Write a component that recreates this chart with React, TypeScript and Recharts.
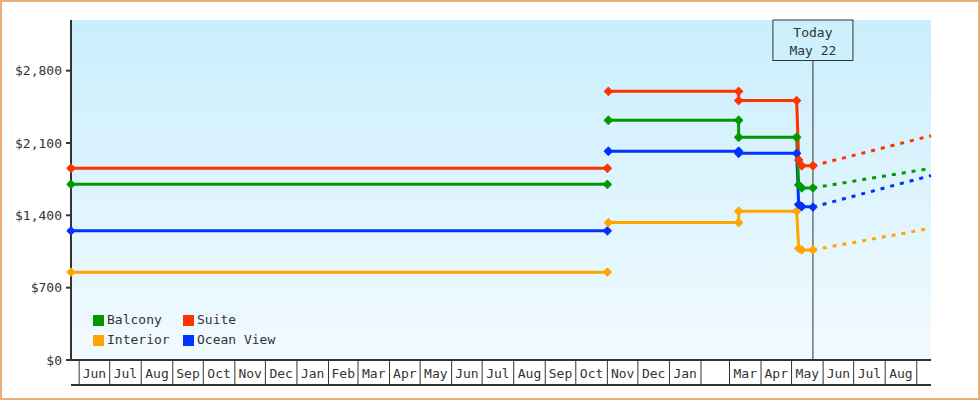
import React from "react";
import { LineChart, Line, XAxis, YAxis, CartesianGrid, ReferenceLine, Legend } from "recharts";

const FONT = '"DejaVu Sans Mono", monospace';
const INK = "#333333";

// ---- categories / legend ----
const legendNames = ["Balcony", "Suite", "Interior", "Ocean View"];
const legendColors = ["#009900", "#ff3300", "#ffa500", "#0033ff"];

// ---- x axis ----
const domainStart = "2023-05-24";
const domainEnd = "2025-09-15";
const firstMonth = [2023, 5]; // June 2023 (0-based month)
const monthLabels = [
  "Jun", "Jul", "Aug", "Sep", "Oct", "Nov", "Dec", "Jan", "Feb", "Mar", "Apr", "May",
  "Jun", "Jul", "Aug", "Sep", "Oct", "Nov", "Dec", "Jan", "", "Mar", "Apr", "May",
  "Jun", "Jul", "Aug",
];
const todayDate = "2025-05-22";
const todayLabel = ["Today", "May 22"];

// ---- y axis ----
const yTicks = [0, 700, 1400, 2100, 2800];
const yMax = 3290;

// ---- series values: [date, price] ----
const interiorEarly = [["2023-05-24", 850], ["2024-11-01", 850]];
const interiorRecent = [
  ["2024-11-02", 1330], ["2025-03-10", 1330], ["2025-03-10", 1440], ["2025-05-06", 1440],
  ["2025-05-08", 1080], ["2025-05-11", 1065], ["2025-05-22", 1065],
];
const interiorForecast = [["2025-05-22", 1065], ["2025-09-15", 1275]];

const oceanEarly = [["2023-05-24", 1250], ["2024-11-01", 1250]];
const oceanRecent = [
  ["2024-11-02", 2020], ["2025-03-10", 2020], ["2025-03-10", 2000], ["2025-05-06", 2000],
  ["2025-05-08", 1505], ["2025-05-11", 1485], ["2025-05-22", 1480],
];
const oceanForecast = [["2025-05-22", 1480], ["2025-09-15", 1785]];

const balconyEarly = [["2023-05-24", 1700], ["2024-11-01", 1700]];
const balconyRecent = [
  ["2024-11-02", 2320], ["2025-03-10", 2320], ["2025-03-10", 2155], ["2025-05-06", 2155],
  ["2025-05-08", 1695], ["2025-05-11", 1665], ["2025-05-22", 1665],
];
const balconyForecast = [["2025-05-22", 1665], ["2025-09-15", 1855]];

const suiteEarly = [["2023-05-24", 1855], ["2024-11-01", 1855]];
const suiteRecent = [
  ["2024-11-02", 2600], ["2025-03-10", 2600], ["2025-03-10", 2510], ["2025-05-06", 2510],
  ["2025-05-08", 1935], ["2025-05-11", 1880], ["2025-05-22", 1880],
];
const suiteForecast = [["2025-05-22", 1880], ["2025-09-15", 2170]];

// ---- helpers ----
const ts = (d: string) => Date.parse(d + "T00:00:00Z");
const toPoints = (arr: (string | number)[][]) =>
  arr.map(([d, v]) => ({ t: ts(d as string), price: v as number }));

const series = [
  { name: "Interior", color: legendColors[2], early: interiorEarly, recent: interiorRecent, forecast: interiorForecast },
  { name: "Ocean View", color: legendColors[3], early: oceanEarly, recent: oceanRecent, forecast: oceanForecast },
  { name: "Balcony", color: legendColors[0], early: balconyEarly, recent: balconyRecent, forecast: balconyForecast },
  { name: "Suite", color: legendColors[1], early: suiteEarly, recent: suiteRecent, forecast: suiteForecast },
];

const boundaries = Array.from({ length: monthLabels.length + 1 }, (_, i) =>
  Date.UTC(firstMonth[0], firstMonth[1] + i, 1)
);
const mids = monthLabels.map((_, i) => (boundaries[i] + boundaries[i + 1]) / 2);
const boundarySet = new Set(boundaries);
const labelByTick = new Map(mids.map((m, i) => [m, monthLabels[i]]));
const xTicks = [...boundaries, ...mids].sort((a, b) => a - b);
const xDomain = [ts(domainStart), ts(domainEnd)];

const money = (v: number) => "$" + v.toLocaleString("en-US");

function MonthTick(props: any) {
  const { x, y, payload } = props;
  const v = payload.value;
  if (boundarySet.has(v)) {
    return <line x1={x} x2={x} y1={y} y2={y + 25} stroke={INK} strokeWidth={1} />;
  }
  return (
    <text x={x} y={y + 13} textAnchor="middle" dominantBaseline="central" fontFamily={FONT} fontSize={13} fill={INK}>
      {labelByTick.get(v)}
    </text>
  );
}

function makeDiamond(color: string) {
  return (p: any) => {
    const { cx, cy, index } = p;
    if (cx == null || cy == null) return <g key={index} />;
    const r = 4;
    return (
      <polygon
        key={index}
        points={`${cx},${cy - r} ${cx + r},${cy} ${cx},${cy + r} ${cx - r},${cy}`}
        fill={color}
        stroke={color}
        strokeWidth={1.2}
        strokeLinejoin="round"
      />
    );
  };
}

function TodayLabel(props: any) {
  const vb = props.viewBox || {};
  const cx = vb.x;
  const top = vb.y;
  return (
    <g>
      <rect x={cx - 40} y={top} width={80} height={40.5} fill="#ccf0fc" stroke={INK} strokeWidth={1} />
      <text x={cx} y={top + 12.5} textAnchor="middle" dominantBaseline="central" fontFamily={FONT} fontSize={13} fill={INK}>
        {todayLabel[0]}
      </text>
      <text x={cx} y={top + 30} textAnchor="middle" dominantBaseline="central" fontFamily={FONT} fontSize={13} fill={INK}>
        {todayLabel[1]}
      </text>
    </g>
  );
}

function LegendBox() {
  return (
    <div
      style={{
        display: "grid",
        gridTemplateColumns: "90px auto",
        rowGap: 0,
        fontFamily: FONT,
        fontSize: 13,
        color: INK,
        lineHeight: "20px",
      }}
    >
      {legendNames.map((n, i) => (
        <div key={n} style={{ display: "flex", alignItems: "center", whiteSpace: "nowrap" }}>
          <span style={{ display: "inline-block", width: 11, height: 11, background: legendColors[i], marginRight: 3 }} />
          <span>{n}</span>
        </div>
      ))}
    </div>
  );
}

export default function App() {
  return (
    <div style={{ position: "absolute", left: 0, top: 0, width: 980, height: 400, background: "#fff" }}>
      <LineChart width={980} height={400} margin={{ top: 20, right: 49, bottom: 0, left: 0 }}>
        <defs>
          <linearGradient id="plotBg" x1="0" y1="0" x2="0" y2="1">
            <stop offset="0" stopColor="#c9eefc" />
            <stop offset="1" stopColor="#f2faff" />
          </linearGradient>
        </defs>
        <CartesianGrid horizontal={false} vertical={false} fill="url(#plotBg)" stroke="none" />
        <XAxis
          dataKey="t"
          type="number"
          domain={xDomain}
          ticks={xTicks}
          interval={0}
          height={25}
          tickSize={0}
          tickMargin={0}
          tickLine={false}
          tick={<MonthTick />}
          axisLine={{ stroke: INK, strokeWidth: 2 }}
        />
        <XAxis
          xAxisId="frame"
          dataKey="t"
          type="number"
          domain={xDomain}
          height={15}
          tick={false}
          tickLine={false}
          axisLine={{ stroke: INK, strokeWidth: 2 }}
        />
        <YAxis
          type="number"
          domain={[0, yMax]}
          ticks={yTicks}
          interval={0}
          width={71}
          tickSize={5}
          tickMargin={4}
          tickFormatter={money}
          tick={{ fill: INK, fontSize: 13, fontFamily: FONT }}
          tickLine={{ stroke: INK, strokeWidth: 2 }}
          axisLine={{ stroke: INK, strokeWidth: 2 }}
        />
        <ReferenceLine x={ts(todayDate)} stroke={INK} strokeWidth={1} label={<TodayLabel />} ifOverflow="visible" />
        {series.map((s) => (
          <Line
            key={s.name + "-f"}
            data={toPoints(s.forecast)}
            dataKey="price"
            type="linear"
            stroke={s.color}
            strokeWidth={3}
            strokeDasharray="4 6"
            dot={false}
            activeDot={false}
            legendType="none"
            isAnimationActive={false}
          />
        ))}
        {series.map((s) => (
          <Line
            key={s.name + "-e"}
            data={toPoints(s.early)}
            dataKey="price"
            type="linear"
            stroke={s.color}
            strokeWidth={3}
            dot={makeDiamond(s.color)}
            activeDot={false}
            legendType="none"
            isAnimationActive={false}
          />
        ))}
        {series.map((s) => (
          <Line
            key={s.name + "-r"}
            data={toPoints(s.recent)}
            dataKey="price"
            type="linear"
            stroke={s.color}
            strokeWidth={3}
            dot={makeDiamond(s.color)}
            activeDot={false}
            legendType="none"
            isAnimationActive={false}
          />
        ))}
        <Legend
          layout="horizontal"
          verticalAlign="middle"
          align="center"
          width={220}
          wrapperStyle={{ left: 93, top: 310, width: 220, height: 40 }}
          content={() => <LegendBox />}
        />
      </LineChart>
      <div
        style={{
          position: "absolute",
          left: 0,
          top: 0,
          width: 980,
          height: 400,
          boxSizing: "border-box",
          border: "2px solid #e8ae74",
          pointerEvents: "none",
        }}
      />
    </div>
  );
}
